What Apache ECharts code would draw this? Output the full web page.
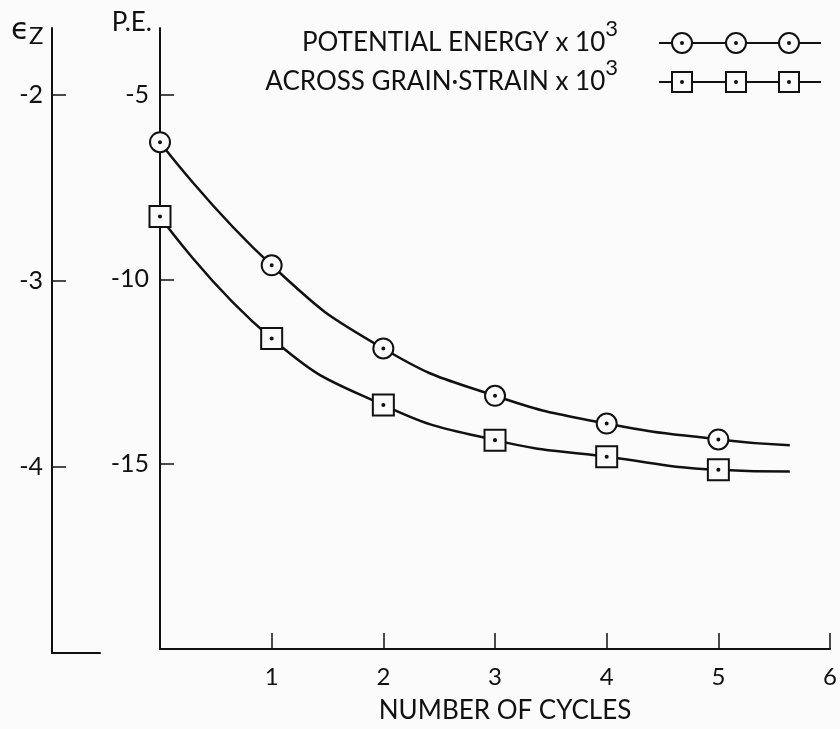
<!DOCTYPE html>
<html>
<head>
<meta charset="utf-8">
<script src="https://cdn.jsdelivr.net/npm/echarts@6/dist/echarts.min.js"></script>
<style>
  html, body { margin: 0; padding: 0; background: #fbfbfb; }
  #main { width: 840px; height: 729px; }
</style>
</head>
<body>
<div id="main"></div>
<script>
// number of cycles where a point was measured
var cycles = [0, 1, 2, 3, 4, 5];
// the drawn curves run on a little past the last point
var curveEnd = 5.64;

// potential energy x 10^3 (P.E. scale)
var potentialEnergy = [-6.29, -9.62, -11.87, -13.15, -13.9, -14.33];
var potentialEnergyEnd = -14.49;

// across grain strain x 10^3 (eps_z scale)
var acrossGrainStrain = [-2.66, -3.32, -3.68, -3.87, -3.96, -4.03];
var acrossGrainStrainEnd = -4.04;

var cycleTicks = [1, 2, 3, 4, 5, 6];
var peTicks = [-15, -10, -5];
var epsTicks = [-4, -3, -2];

var ink = '#111';
var paper = '#fbfbfb';
var font = 'Lato';

// hollow markers with a dot in the middle
var circleMark = 'path://M20 10A10 10 0 1 1 0 10A10 10 0 1 1 20 10ZM11 10A1 1 0 1 1 9 10A1 1 0 1 1 11 10Z';
var squareMark = 'path://M0 0L20 0L20 20L0 20ZM11 10A1 1 0 1 1 9 10A1 1 0 1 1 11 10Z';

// legend keys: a line through three markers
var dot = function (cx) {
  return 'M' + (cx + 1) + ' 10A1 1 0 1 1 ' + (cx - 1) + ' 10A1 1 0 1 1 ' + (cx + 1) + ' 10Z';
};
var circleKey = 'path://M0 10L13 10' +
  'M33 10A10 10 0 1 1 13 10A10 10 0 1 1 33 10Z' + dot(23) + 'M33 10L67 10' +
  'M87 10A10 10 0 1 1 67 10A10 10 0 1 1 87 10Z' + dot(77) + 'M87 10L120 10' +
  'M140 10A10 10 0 1 1 120 10A10 10 0 1 1 140 10Z' + dot(130) + 'M140 10L162 10';
var squareKey = 'path://M0 10L13 10' +
  'M13 0L33 0L33 20L13 20Z' + dot(23) + 'M33 10L67 10' +
  'M67 0L87 0L87 20L67 20Z' + dot(77) + 'M87 10L120 10' +
  'M120 0L140 0L140 20L120 20Z' + dot(130) + 'M140 10L162 10';

function seriesData (ys, endY) {
  var d = cycles.map(function (c, i) { return [c, ys[i]]; });
  d.push({ value: [curveEnd, endY], symbol: 'none' });
  return d;
}

var peMin = -20, peMax = -3.2;
// eps_z = P.E. / 5 - 1 on this sheet
var epsMin = peMin / 5 - 1, epsMax = peMax / 5 - 1;

var myChart = echarts.init(document.getElementById('main'));
myChart.setOption({
  animation: false,
  backgroundColor: paper,
  grid: [
    { left: 160, right: 7, top: 28, bottom: 76 },
    { left: 52, width: 48, top: 28, bottom: 76 }
  ],
  graphic: [
    { type: 'text', left: 11, top: 16, style: { text: 'ϵ', fill: ink, font: '30px "DejaVu Sans"' } },
    { type: 'text', left: 29, top: 24, style: { text: 'Z', fill: ink, font: '24px Lato' } }
  ],
  legend: {
    orient: 'vertical',
    align: 'right',
    right: 18,
    top: 18,
    padding: 0,
    itemGap: -8,
    itemWidth: 162,
    itemHeight: 20,
    selectedMode: false,
    itemStyle: { color: paper, borderColor: ink, borderWidth: 2 },
    data: [
      { name: 'POTENTIAL ENERGY', icon: circleKey },
      { name: 'ACROSS GRAIN·STRAIN', icon: squareKey }
    ],
    formatter: function (name) { return name + ' x 10{s|3}'; },
    textStyle: {
      color: ink, fontFamily: font, fontSize: 26, lineHeight: 44, padding: [0, 36, 0, 0],
      rich: { s: { color: ink, fontFamily: font, fontSize: 22, padding: [0, 0, 28, 0] } }
    }
  },
  xAxis: [
    {
      type: 'value', gridIndex: 0, min: 0, max: 6, interval: 1,
      axisLine: { onZero: false, lineStyle: { color: ink, width: 2 } },
      axisTick: { inside: true, length: 16, customValues: cycleTicks, lineStyle: { color: ink, width: 1.5 } },
      axisLabel: { customValues: cycleTicks, margin: 16, color: ink, fontFamily: font, fontSize: 24 },
      splitLine: { show: false },
      name: 'NUMBER OF CYCLES', nameLocation: 'middle', nameGap: 49,
      nameTextStyle: { color: ink, fontFamily: font, fontSize: 26, padding: [0, 0, 0, 20] }
    },
    {
      type: 'value', gridIndex: 1, min: 0, max: 1,
      axisLine: { onZero: false, lineStyle: { color: ink, width: 2 } },
      axisTick: { show: false }, axisLabel: { show: false }, splitLine: { show: false }
    }
  ],
  yAxis: [
    {
      type: 'value', gridIndex: 0, min: peMin, max: peMax, interval: 5,
      axisLine: { show: true, onZero: false, lineStyle: { color: ink, width: 2 } },
      axisTick: { show: true, inside: true, length: 14, customValues: peTicks, lineStyle: { color: ink, width: 1.5 } },
      axisLabel: { customValues: peTicks, margin: 11, color: ink, fontFamily: font, fontSize: 25 },
      splitLine: { show: false },
      name: 'P.E.', nameLocation: 'end', nameGap: 5,
      nameTextStyle: { color: ink, fontFamily: font, fontSize: 26, align: 'right', verticalAlign: 'middle', padding: [0, 8, 0, 0] }
    },
    {
      // eps_z scale for the strain curve; its visible axis sits in the narrow grid
      type: 'value', gridIndex: 0, min: epsMin, max: epsMax, show: false
    },
    {
      type: 'value', gridIndex: 1, min: epsMin, max: epsMax, interval: 1,
      axisLine: { show: true, onZero: false, lineStyle: { color: ink, width: 2 } },
      axisTick: { show: true, inside: true, length: 14, customValues: epsTicks, lineStyle: { color: ink, width: 1.5 } },
      axisLabel: { customValues: epsTicks, margin: 9, color: ink, fontFamily: font, fontSize: 25 },
      splitLine: { show: false }
    }
  ],
  series: [
    {
      name: 'POTENTIAL ENERGY', type: 'line', xAxisIndex: 0, yAxisIndex: 0,
      smooth: 0.5,
      symbol: circleMark, symbolSize: 20,
      lineStyle: { color: ink, width: 2.5 },
      itemStyle: { color: paper, borderColor: ink, borderWidth: 2 },
      data: seriesData(potentialEnergy, potentialEnergyEnd)
    },
    {
      name: 'ACROSS GRAIN·STRAIN', type: 'line', xAxisIndex: 0, yAxisIndex: 1,
      smooth: 0.5,
      symbol: squareMark, symbolSize: 21,
      lineStyle: { color: ink, width: 2.5 },
      itemStyle: { color: paper, borderColor: ink, borderWidth: 2 },
      data: seriesData(acrossGrainStrain, acrossGrainStrainEnd)
    }
  ]
});
</script>
</body>
</html>
